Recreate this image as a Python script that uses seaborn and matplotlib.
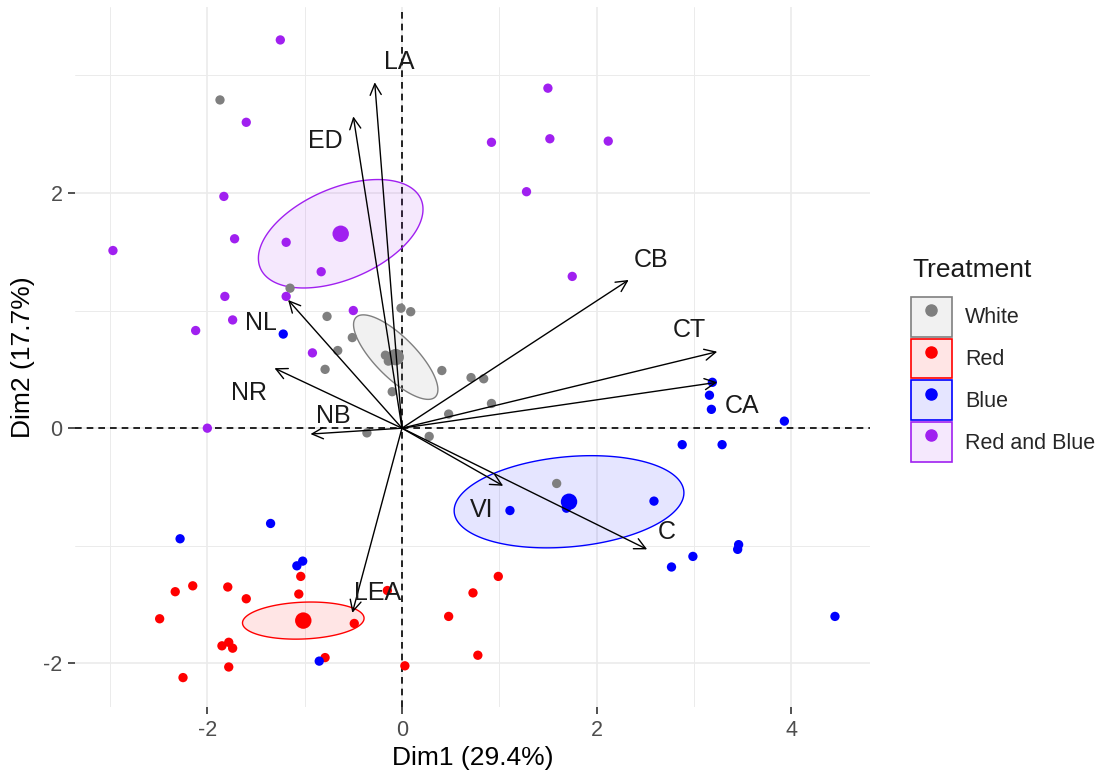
import numpy as np
import pandas as pd
import matplotlib.pyplot as plt
import seaborn as sns
from matplotlib.patches import Patch
from matplotlib.lines import Line2D
from matplotlib.colors import to_rgba
from matplotlib.legend_handler import HandlerTuple


# individuals (PCA coordinates)
white_x = [-1.15, -0.77, -0.51, -0.66, -0.79, -0.01, 0.09, -0.17, -0.07, -0.14,
           0.41, -0.10, 0.71, 0.84, 0.48, 0.92, -0.36, 0.28, -1.87, 1.59]
white_y = [1.19, 0.95, 0.77, 0.66, 0.50, 1.02, 0.99, 0.62, 0.62, 0.57,
           0.49, 0.31, 0.43, 0.42, 0.12, 0.21, -0.04, -0.07, 2.79, -0.47]

red_x = [-1.04, -1.06, -2.33, -2.15, -1.79, -1.60, -2.49, -0.49, -1.85, -1.78,
         -1.74, -1.78, -2.25, -0.79, 0.03, -0.15, 0.99, 0.73, 0.48, 0.78]
red_y = [-1.26, -1.41, -1.39, -1.34, -1.35, -1.45, -1.62, -1.66, -1.85, -1.82,
         -1.87, -2.03, -2.12, -1.95, -2.02, -1.38, -1.26, -1.40, -1.60, -1.93]

blue_x = [-1.22, 3.19, 3.16, 3.18, 3.93, 2.88, 3.29, -2.28, -1.35, -1.08,
          -1.02, -0.85, 1.11, 1.69, 2.59, 2.77, 2.99, 3.45, 3.46, 4.45]
blue_y = [0.80, 0.39, 0.28, 0.16, 0.06, -0.14, -0.14, -0.94, -0.81, -1.17,
          -1.13, -1.98, -0.70, -0.68, -0.62, -1.18, -1.09, -1.03, -0.99, -1.60]

rb_x = [-1.25, -1.60, -1.83, -1.72, -2.97, -1.19, -0.83, -1.82, -1.19, -1.74,
        -2.12, -0.50, -0.92, -2.00, 1.50, 0.92, 1.52, 2.12, 1.28, 1.75]
rb_y = [3.30, 2.60, 1.97, 1.61, 1.51, 1.58, 1.33, 1.12, 1.12, 0.92,
        0.83, 1.00, 0.64, 0.00, 2.89, 2.43, 2.46, 2.44, 2.01, 1.29]

treatments = ["White", "Red", "Blue", "Red and Blue"]
colors = ["#7F7F7F", "#FF0000", "#0000FF", "#A020F0"]

# variables (arrow tips)
var_names = ["LA", "ED", "CB", "CT", "CA", "NL", "NR", "NB", "VI", "C", "LEA"]
var_x = [-0.28, -0.50, 2.33, 3.24, 3.24, -1.17, -1.31, -0.94, 1.04, 2.52, -0.51]
var_y = [2.94, 2.65, 1.26, 0.65, 0.39, 1.09, 0.51, -0.05, -0.49, -1.03, -1.57]

# label nudges in pixels (right, up)
lab_dx = [25, -28, 22, -28, 25, -27, -25, 23, -22, 20, 25]
lab_dy = [20, -25, 20, 22, -24, -23, -25, 18, -24, 17, 20]

df = pd.DataFrame({
    "Dim1": white_x + red_x + blue_x + rb_x,
    "Dim2": white_y + red_y + blue_y + rb_y,
    "Treatment": ["White"] * 20 + ["Red"] * 20 + ["Blue"] * 20 + ["Red and Blue"] * 20,
})

sns.set_theme(style="white")
plt.rcParams["font.family"] = ["Liberation Sans", "DejaVu Sans"]
plt.rcParams["axes.unicode_minus"] = False

fig = plt.figure(figsize=(11.11, 7.76), dpi=100)
ax = fig.add_axes([75 / 1111, 1 - 707 / 776, 795 / 1111, 700 / 776])

ax.set_xlim(-3.36, 4.81)
ax.set_ylim(-2.37, 3.58)
ax.set_xticks([-2, 0, 2, 4])
ax.set_yticks([-2, 0, 2])
ax.set_xticks([-3, -1, 1, 3], minor=True)
ax.set_yticks([-1, 1, 3], minor=True)
ax.grid(True, which="major", color="#EBEBEB", lw=1.2)
ax.grid(True, which="minor", color="#EBEBEB", lw=0.7)
ax.set_axisbelow(True)
for s in ax.spines.values():
    s.set_visible(False)
ax.tick_params(which="major", length=5, width=1.2, color="#333333",
               labelcolor="#4D4D4D", labelsize=15.5, pad=4,
               bottom=True, left=True)
ax.tick_params(which="minor", length=0)

ax.axhline(0, color="black", lw=1.2, ls=(0, (4, 3)), zorder=1)
ax.axvline(0, color="black", lw=1.2, ls=(0, (4, 3)), zorder=1)

# confidence ellipses around the group means
theta = np.linspace(0, 2 * np.pi, 200)
radius = np.sqrt(5.991)
for t, col in zip(treatments, colors):
    g = df[df["Treatment"] == t]
    pts = g[["Dim1", "Dim2"]].to_numpy()
    center = pts.mean(axis=0)
    cov = np.cov(pts.T) / len(pts)
    vals, vecs = np.linalg.eigh(cov)
    circ = np.vstack([np.cos(theta), np.sin(theta)]) * radius
    ell = vecs @ (np.sqrt(vals)[:, None] * circ)
    ax.fill(center[0] + ell[0], center[1] + ell[1], facecolor=to_rgba(col, 0.1),
            edgecolor=col, lw=1.0, zorder=2)

sns.scatterplot(data=df, x="Dim1", y="Dim2", hue="Treatment", hue_order=treatments,
                palette=colors, s=45, linewidth=0, legend=False, ax=ax, zorder=3)

means = df.groupby("Treatment", sort=False)[["Dim1", "Dim2"]].mean().reset_index()
sns.scatterplot(data=means, x="Dim1", y="Dim2", hue="Treatment", hue_order=treatments,
                palette=colors, s=140, linewidth=0, legend=False, ax=ax, zorder=3)

for name, x, y, dx, dy in zip(var_names, var_x, var_y, lab_dx, lab_dy):
    ax.annotate("", xy=(x, y), xytext=(0, 0),
                arrowprops=dict(arrowstyle="->,head_length=0.5,head_width=0.25",
                                color="black", lw=1.0, mutation_scale=16,
                                shrinkA=0, shrinkB=0), zorder=4)
    ax.annotate(name, xy=(x, y), xytext=(dx * 0.72, dy * 0.72),
                textcoords="offset points", ha="center", va="center",
                fontsize=18, color="#1A1A1A", zorder=5)

ax.set_xlabel("Dim1 (29.4%)", fontsize=19, color="black", labelpad=4)
ax.set_ylabel("Dim2 (17.7%)", fontsize=19, color="black", labelpad=6)

handles = []
for col in colors:
    box = Patch(facecolor=to_rgba(col, 0.1), edgecolor=col, lw=1.2)
    dot = Line2D([], [], marker="o", color=col, ls="", markersize=8)
    handles.append((box, dot))

fig.text(912 / 1111, 1 - 270 / 776, "Treatment", fontsize=19, color="#1A1A1A",
         ha="left", va="center")
leg = fig.legend(handles, treatments, handler_map={tuple: HandlerTuple(ndivide=1)},
                 loc="upper left", bbox_to_anchor=(911 / 1111, 1 - 297 / 776),
                 frameon=False, fontsize=15.5,
                 handlelength=1.9, handleheight=2.45, handletextpad=0.6,
                 labelspacing=0.1, borderpad=0, borderaxespad=0)

fig.savefig("out.png", dpi=100)
plt.close()
